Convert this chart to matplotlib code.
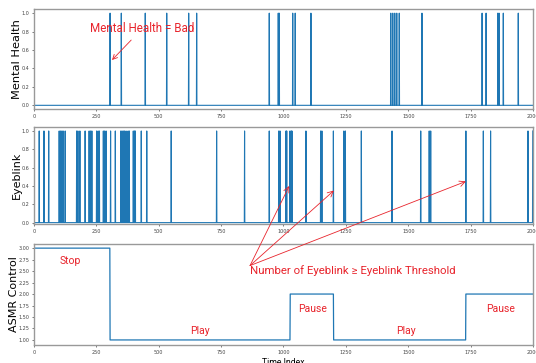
import numpy as np
import matplotlib.pyplot as plt

# spike positions (time index)
n_points = 2000
mental_bad = [305, 350, 446, 532, 620, 652, 943, 979, 983, 1037, 1047, 1110,
              1430, 1438, 1446, 1454, 1464, 1555, 1796, 1812, 1859, 1864, 1881, 1941]
eyeblink = [0, 21, 40, 59, 101, 107, 112, 117, 125, 171, 176, 184, 205, 221, 227,
            232, 251, 257, 262, 278, 283, 289, 307, 326, 348, 353, 358, 363, 369,
            377, 382, 398, 403, 406, 430, 452, 550, 732, 844, 943, 981, 986, 1010,
            1013, 1026, 1031, 1034, 1090, 1149, 1154, 1200, 1242, 1248, 1312, 1435,
            1550, 1584, 1590, 1731, 1801, 1830, 1980, 1999]
# ASMR control steps: (start index, level)
asmr_starts = [0, 305, 1027, 1201, 1731]
asmr_levels = [3, 1, 2, 1, 2]

t = np.arange(n_points)
mh = np.zeros(n_points)
mh[mental_bad] = 1
eb = np.zeros(n_points)
eb[eyeblink] = 1
asmr = np.zeros(n_points)
for s, lv in zip(asmr_starts, asmr_levels):
    asmr[s:] = lv

red = '#e8242c'
blue = '#1f77b4'
ann_font = ['Roboto', 'Noto Sans CJK KR', 'DejaVu Sans']

fig = plt.figure(figsize=(5.36, 3.63), dpi=100)
ax1 = fig.add_axes([0.0634, 0.6997, 0.931, 0.2755])
ax2 = fig.add_axes([0.0634, 0.3829, 0.931, 0.2664])
ax3 = fig.add_axes([0.0634, 0.0496, 0.931, 0.2782])

ax1.plot(t, mh, color=blue, lw=0.8)
ax2.plot(t, eb, color=blue, lw=0.8)
ax3.plot(t, asmr, color=blue, lw=0.9)

ax1.set_ylim(-0.04, 1.045)
ax2.set_ylim(-0.015, 1.04)
ax3.set_ylim(0.89, 3.09)
ax1.set_yticks(np.arange(0, 1.01, 0.2))
ax2.set_yticks(np.arange(0, 1.01, 0.2))
ax3.set_yticks(np.arange(1, 3.01, 0.25))

for ax in (ax1, ax2, ax3):
    ax.set_xlim(0, 2000)
    ax.set_xticks([0, 250, 500, 750, 1000, 1250, 1500, 1750, 2000])
    ax.tick_params(labelsize=3.5, length=1.5, width=0.5, pad=2, colors='#444444')
    for sp in ax.spines.values():
        sp.set_color('#999999')
        sp.set_linewidth(1)

ax1.set_ylabel('Mental Health', fontsize=8.2)
ax2.set_ylabel('Eyeblink', fontsize=8)
ax3.set_ylabel('ASMR Control', fontsize=8)
ax1.yaxis.set_label_coords(-0.025, 0.5)
ax2.yaxis.set_label_coords(-0.025, 0.5)
ax3.yaxis.set_label_coords(-0.03, 0.5)
ax3.set_xlabel('Time Index', fontsize=6.2, labelpad=2, family=ann_font)

# annotations
ax1.annotate('Mental Health = Bad', xy=(305, 0.47), xytext=(224, 0.76),
             color=red, fontsize=8.4, family=ann_font, ha='left', va='bottom',
             arrowprops=dict(arrowstyle='->', color=red, lw=0.6))

ax3.text(866, 2.62, 'Number of Eyeblink \u2265 Eyeblink Threshold', color=red,
         fontsize=8.2, family=ann_font, ha='left', va='top')
for px, py in [(1023, 0.40), (1202, 0.35), (1731, 0.45)]:
    ax3.annotate('', xy=(px, py), xycoords=ax2.transData,
                 xytext=(866, 2.62), textcoords=ax3.transData,
                 arrowprops=dict(arrowstyle='->', color=red, lw=0.6,
                                 shrinkA=0, shrinkB=0))

for label, x, y in [('Stop', 144, 2.72), ('Play', 665, 1.20), ('Pause', 1117, 1.68),
                    ('Play', 1491, 1.20), ('Pause', 1869, 1.68)]:
    ax3.text(x, y, label, color=red, fontsize=7.5, family=ann_font,
             ha='center', va='center')

fig.savefig('out.png', dpi=100)
